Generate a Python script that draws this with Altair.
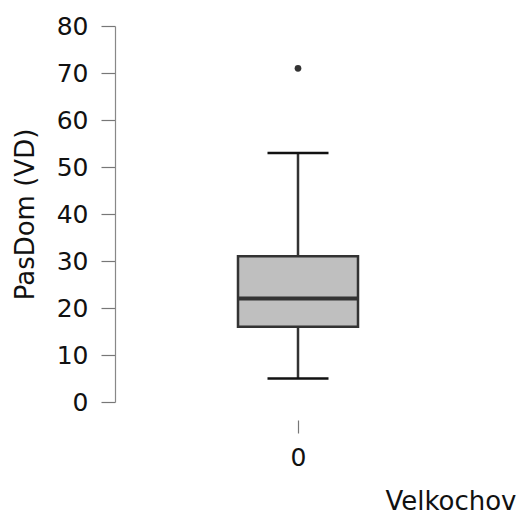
import altair as alt
import pandas as pd

# Summary statistics of PasDom (VD) for group 0
groups = [0]
lower_whisker = [5]
q1 = [16]
median = [22]
q3 = [31]
upper_whisker = [53]
outlier_group = [0]
outlier_values = [71]

stats = pd.DataFrame({
    "group": groups,
    "lower": lower_whisker,
    "q1": q1,
    "median": median,
    "q3": q3,
    "upper": upper_whisker,
})
outliers = pd.DataFrame({"group": outlier_group, "value": outlier_values})

FONT = "DejaVu Sans"
DARK = "#333333"
TEXT = "#111111"

x_enc = alt.X(
    "group:Q",
    scale=alt.Scale(domain=[-1, 1]),
    axis=alt.Axis(
        values=[0],
        format="d",
        domain=False,
        grid=False,
        ticks=True,
        tickSize=13,
        tickColor="#777777",
        tickWidth=1.2,
        offset=18,
        labelFont=FONT,
        labelFontSize=25,
        labelColor=TEXT,
        labelPadding=12,
        title="Velkochov",
        titleFont=FONT,
        titleFontSize=26,
        titleFontWeight="normal",
        titleColor=TEXT,
        titleAlign="right",
        titleBaseline="alphabetic",
        titleX=401,
        titleY=89,
    ),
)

y_scale = alt.Scale(domain=[0, 80], nice=False, zero=True)
y_axis = alt.Axis(
    values=list(range(0, 81, 10)),
    grid=False,
    domainColor="#888888",
    domainWidth=1.2,
    tickColor="#777777",
    tickWidth=1.2,
    tickSize=14,
    labelFont=FONT,
    labelFontSize=25,
    labelColor=TEXT,
    labelPadding=13,
    title="PasDom (VD)",
    titleFont=FONT,
    titleFontSize=26,
    titleFontWeight="normal",
    titleColor=TEXT,
    titlePadding=18,
)

base = alt.Chart(stats)

whisker = base.mark_rule(color=DARK, strokeWidth=2.5).encode(
    x=x_enc,
    y=alt.Y("lower:Q", scale=y_scale, axis=y_axis),
    y2="upper:Q",
)

box = base.mark_bar(size=120, fill="#bfbfbf", stroke=DARK, strokeWidth=2.5).encode(
    x=x_enc,
    y=alt.Y("q1:Q", scale=y_scale, axis=y_axis),
    y2="q3:Q",
)

median_line = base.mark_tick(orient="horizontal", size=120, thickness=4, color=DARK, opacity=1).encode(
    x=x_enc,
    y=alt.Y("median:Q", scale=y_scale, axis=y_axis),
)

cap_low = base.mark_tick(orient="horizontal", size=61, thickness=2.5, color=TEXT, opacity=1).encode(
    x=x_enc,
    y=alt.Y("lower:Q", scale=y_scale, axis=y_axis),
)

cap_high = base.mark_tick(orient="horizontal", size=61, thickness=2.5, color=TEXT, opacity=1).encode(
    x=x_enc,
    y=alt.Y("upper:Q", scale=y_scale, axis=y_axis),
)

points = alt.Chart(outliers).mark_circle(size=45, color=DARK, opacity=1).encode(
    x=x_enc,
    y=alt.Y("value:Q", scale=y_scale, axis=y_axis),
)

chart = (
    alt.layer(whisker, box, median_line, cap_low, cap_high, points)
    .properties(
        width=366,
        height=376,
        autosize=alt.AutoSizeParams(type="none"),
        padding={"left": 115, "top": 26, "right": 42, "bottom": 114},
        view=alt.ViewBackground(strokeWidth=0, stroke="transparent"),
    )
    .configure_view(strokeWidth=0, stroke="transparent")
    .configure(background="white")
)

chart.save("out.html", embed_options={"renderer": "svg", "actions": False})
